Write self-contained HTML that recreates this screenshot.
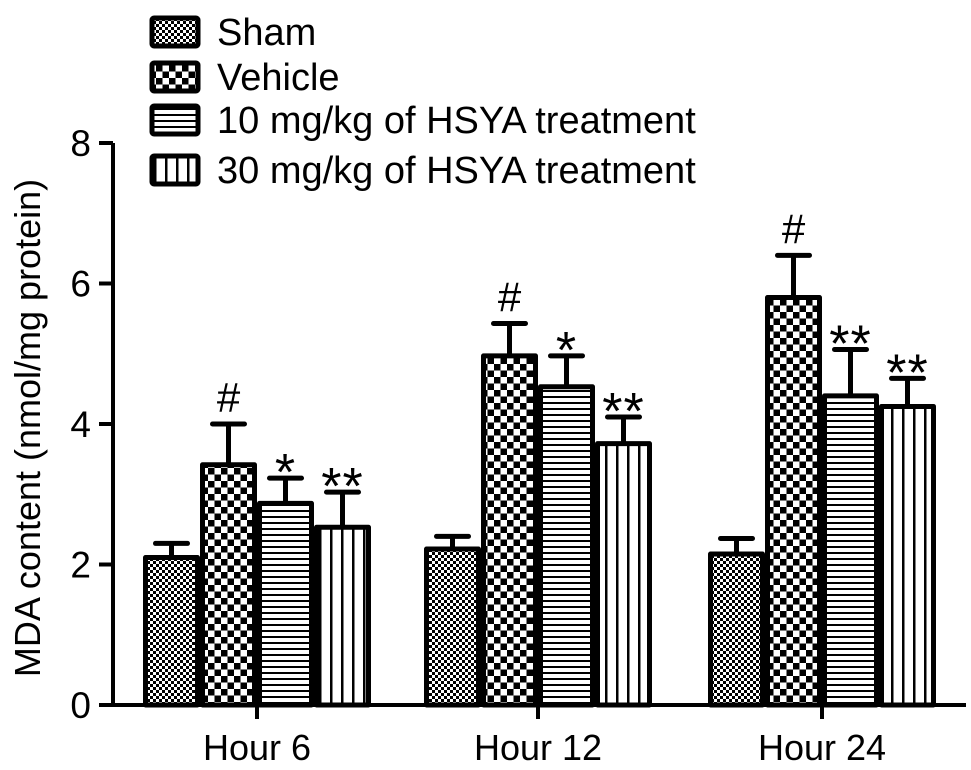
<!DOCTYPE html>
<html><head><meta charset="utf-8">
<style>
body{margin:0;background:#fff;}
svg{display:block;font-family:"Liberation Sans",Arial,sans-serif;}
</style></head>
<body>
<svg id="chart" width="971" height="770" viewBox="0 0 971 770" xmlns="http://www.w3.org/2000/svg">
<defs>
<pattern id="p0" width="6" height="6" patternUnits="userSpaceOnUse"><rect width="6" height="6" fill="#fff"/><rect width="3" height="3" fill="#000"/><rect x="3" y="3" width="3" height="3" fill="#000"/></pattern>
<pattern id="p1" width="13" height="13" patternUnits="userSpaceOnUse"><rect width="13" height="13" fill="#fff"/><rect width="6.5" height="6.5" fill="#000"/><rect x="6.5" y="6.5" width="6.5" height="6.5" fill="#000"/></pattern>
<pattern id="p2" width="6" height="6" patternUnits="userSpaceOnUse"><rect width="6" height="6" fill="#fff"/><rect width="6" height="2" fill="#000"/></pattern>
<pattern id="p3" width="11" height="11" patternUnits="userSpaceOnUse"><rect width="11" height="11" fill="#fff"/><rect width="2.5" height="11" fill="#000"/></pattern>
</defs>
<g id="plot"></g>
</svg>
<script>
const categories=["Hour 6","Hour 12","Hour 24"];
const seriesNames=["Sham","Vehicle","10 mg/kg of HSYA treatment","30 mg/kg of HSYA treatment"];
const sham=[2.1,2.22,2.15];
const vehicle=[3.42,4.97,5.8];
const hsya10=[2.87,4.53,4.4];
const hsya30=[2.53,3.72,4.25];
const shamErr=[0.2,0.18,0.22];
const vehicleErr=[0.58,0.46,0.6];
const hsya10Err=[0.36,0.44,0.66];
const hsya30Err=[0.5,0.38,0.4];
const shamSig=["","",""];
const vehicleSig=["#","#","#"];
const hsya10Sig=["*","*","**"];
const hsya30Sig=["**","**","**"];
const yTicks=[0,2,4,6,8];

const NS="http://www.w3.org/2000/svg";
const g=document.getElementById('plot');
const y0=705, pxPer=70.25, xAxisL=113;
const yS=v=>y0-v*pxPer;
const groupStart=[143,424,708], barW=57;
const xS=(gi,si)=>groupStart[gi]+si*barW;
function mk(t,a,p){const e=document.createElementNS(NS,t);for(const k in a)e.setAttribute(k,a[k]);(p||g).appendChild(e);return e;}

const series=[sham,vehicle,hsya10,hsya30];
const errs=[shamErr,vehicleErr,hsya10Err,hsya30Err];
const sigs=[shamSig,vehicleSig,hsya10Sig,hsya30Sig];
const keys=["sham","vehicle","hsya10","hsya30"];
categories.forEach((c,gi)=>{
  series.forEach((s,si)=>{
    const x=xS(gi,si),v=s[gi],top=yS(v),et=yS(v+errs[si][gi]),cx=x+barW/2;
    const ln=mk('line',{x1:cx,x2:cx,y1:top,y2:et,stroke:'#000','stroke-width':5});
    
    
    const cap=mk('line',{x1:cx-16,x2:cx+16,y1:et,y2:et,stroke:'#000','stroke-width':5,'stroke-linecap':'round'});
    
    
    const r=mk('rect',{x:x+2.5,y:top,width:barW-5,height:y0-top,fill:'url(#p'+si+')',stroke:'#000','stroke-width':5,'stroke-linejoin':'round'});
    
    
    if(sigs[si][gi]){
      const isHash=sigs[si][gi]=="#";
      const t=mk('text',{x:cx,y:et-(isHash?12:-12),'text-anchor':'middle','font-size':isHash?42:52,'letter-spacing':isHash?0:1});
      t.textContent=sigs[si][gi];
      
      
    }
  });
  const tx=xS(gi,2);
  const tk=mk('line',{x1:tx,x2:tx,y1:y0,y2:y0+14,stroke:'#000','stroke-width':4});
  
  
  const tl=mk('text',{x:tx,y:y0+55,'text-anchor':'middle','font-size':36});
  tl.textContent=c;
  
  
});
yTicks.forEach(v=>{
  const t=mk('line',{x1:xAxisL-14,x2:xAxisL,y1:yS(v),y2:yS(v),stroke:'#000','stroke-width':4});
  
  
  const l=mk('text',{x:xAxisL-22,y:yS(v)+13,'text-anchor':'end','font-size':37});
  l.textContent=v;
  
  
});
const ya=mk('line',{x1:xAxisL,x2:xAxisL,y1:yS(8),y2:y0+2,stroke:'#000','stroke-width':4});


const xa=mk('line',{x1:xAxisL-2,x2:966,y1:y0,y2:y0,stroke:'#000','stroke-width':4});


const yt=mk('text',{x:0,y:0,'text-anchor':'middle','font-size':36,transform:'translate(40,428) rotate(-90)'});
yt.textContent='MDA content (nmol/mg protein)';


const legY=[32,77,120,170];
seriesNames.forEach((n,i)=>{
  const b=mk('rect',{x:152,y:legY[i]-14,width:46,height:28,fill:'url(#p'+i+')',stroke:'#000','stroke-width':5,rx:2});
  
  
  const t=mk('text',{x:217,y:legY[i]+13,'font-size':38});
  t.textContent=n;
  
  
});
</script>
</body></html>
